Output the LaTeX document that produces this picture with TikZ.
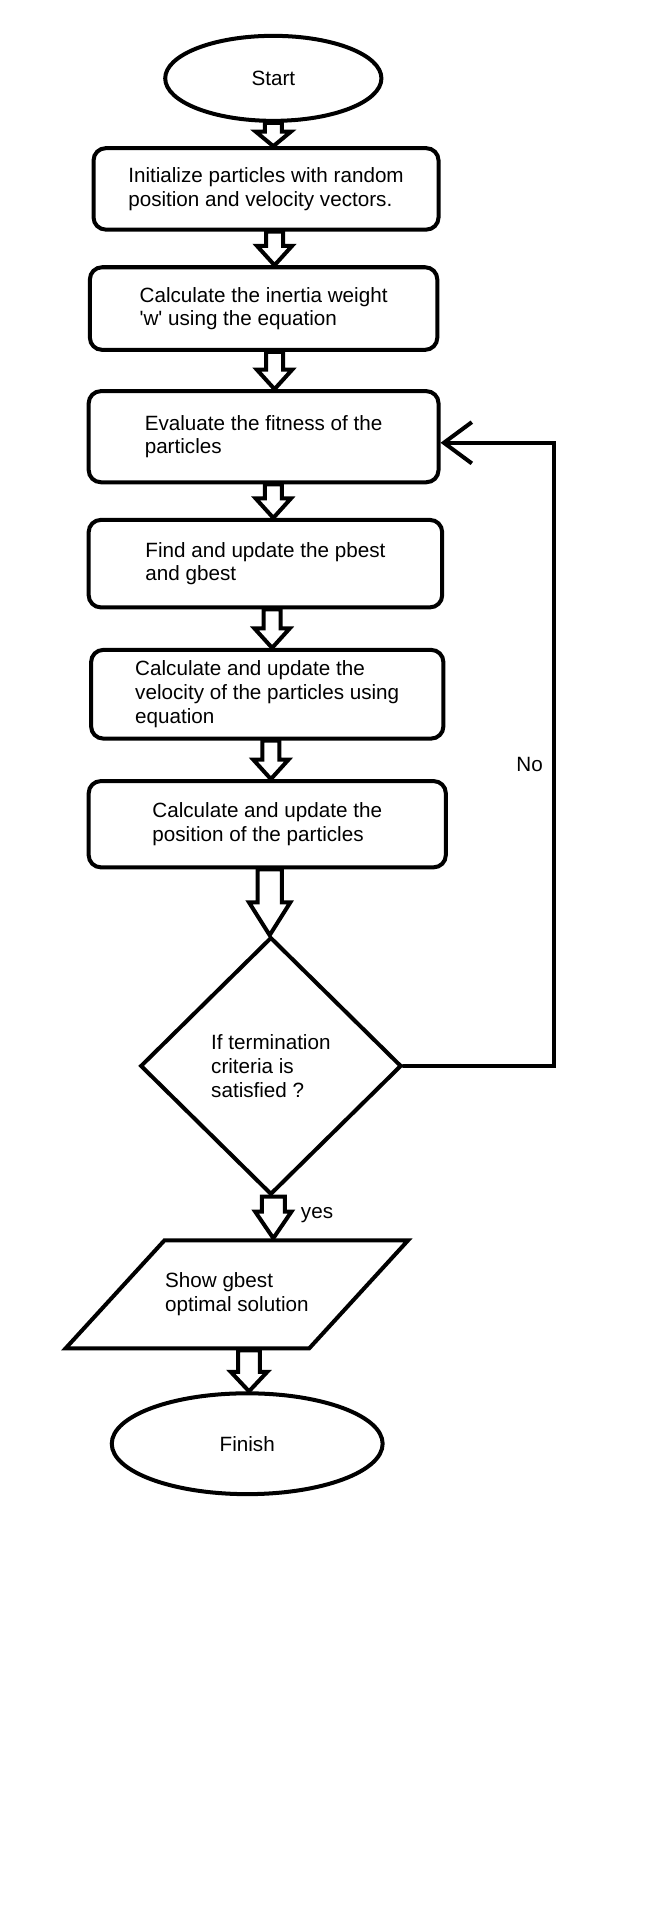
\documentclass[tikz,border=0pt]{standalone}
\usepackage{fontspec}
\setmainfont{Liberation Sans}
\usetikzlibrary{shapes.geometric,arrows.meta,calc}

% hollow block arrow: from, to, x, half shaft, half head, head length
\newcommand{\blockarrow}[6]{%
  \draw[blockline] let \p1=(#1.south), \p2=(#2.north) in
    (#3pt-#4pt,\y1) -- (#3pt-#4pt,\y2+#6pt) -- (#3pt-#5pt,\y2+#6pt) -- (#3pt,\y2)
    -- (#3pt+#5pt,\y2+#6pt) -- (#3pt+#4pt,\y2+#6pt) -- (#3pt+#4pt,\y1) -- cycle;
}

\begin{document}
\begin{tikzpicture}[x=1pt,y=-1pt,line width=3.3pt,
    every node/.style={font=\fontsize{17}{19.5}\selectfont},
    startstop/.style={draw,ellipse},
    stepbox/.style={draw,rounded corners=10pt,align=left},
    decision/.style={draw,diamond,align=left,inner sep=0pt},
    iobox/.style={draw,trapezium,trapezium left angle=47,trapezium right angle=133,
        trapezium stretches body=true,align=left,inner ysep=26pt,inner xsep=0pt},
    blockline/.style={line join=miter},
    loopline/.style={-{Straight Barb[length=23pt,width=34pt]},line cap=round}]
        \path[fill=white] (0,0) rectangle (540,1574);

        % Start
        \node[startstop,minimum width=178pt,minimum height=70pt] (start) at (225,64.5) {Start};

        % Steps
        \node[stepbox,minimum width=284pt,minimum height=67pt] (init) at (219,155.5)
            {Initialize particles with random\\position and velocity vectors.};
        \node[stepbox,minimum width=286pt,minimum height=68pt] (inertia) at (217,254)
            {Calculate the inertia weight\\\textquotesingle w\textquotesingle{} using the equation};
        \node[stepbox,minimum width=288pt,minimum height=75pt] (fitness) at (217,359.5)
            {Evaluate the fitness of the\\particles};
        \node[stepbox,minimum width=291pt,minimum height=72pt] (best) at (218.5,464)
            {Find and update the pbest\\and gbest};
        \node[stepbox,minimum width=290pt,minimum height=73pt] (velocity) at (220,571.5)
            {Calculate and update the\\velocity of the particles using\\equation};
        \node[stepbox,minimum width=294pt,minimum height=71pt] (position) at (220,678.5)
            {Calculate and update the\\position of the particles};

        % Termination test
        \node[decision,minimum width=215pt,minimum height=212pt] (stop) at (223,877.5)
            {If termination\\criteria is\\satisfied ?};

        % Output and finish
        \node[iobox,minimum width=282pt,minimum height=89pt] (show) at (195,1065.5)
            {Show gbest\\optimal solution};
        \node[startstop,minimum width=223pt,minimum height=83pt] (finish) at (203.5,1188.5) {Finish};

        % Block arrows
        \blockarrow{start}{init}{225}{7}{14.5}{12}
        \blockarrow{init}{inertia}{226}{7}{14.5}{16}
        \blockarrow{inertia}{fitness}{226}{7}{14.5}{16}
        \blockarrow{fitness}{best}{225}{7}{14.5}{16}
        \blockarrow{best}{velocity}{224}{7}{14.5}{16}
        \blockarrow{velocity}{position}{223}{7}{14.5}{16}
        \blockarrow{position}{stop}{222}{10}{17}{27}
        \blockarrow{stop}{show}{225}{9.5}{15}{22}
        \blockarrow{show}{finish}{205}{9}{15}{16}

        % Loop back when not satisfied
        \coordinate (back) at (456,0);
        \draw[loopline] (stop.east) -- (stop.east -| back) |- ([yshift=-5pt]fitness.east);
        \node (no) at (436,629) {No};
        \node (yes) at (261,1000) {yes};
\end{tikzpicture}
\end{document}
